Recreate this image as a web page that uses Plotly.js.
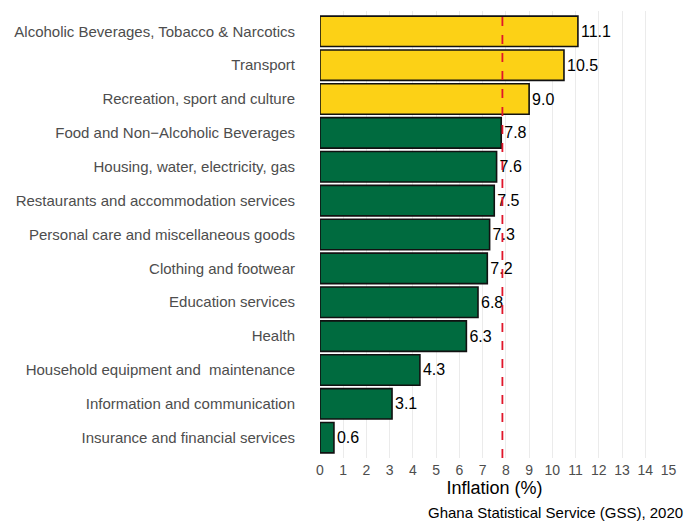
<!DOCTYPE html>
<html><head><meta charset="utf-8">
<script src="https://cdn.plot.ly/plotly-3.0.1.min.js"></script>
<style>body{margin:0;background:#fff}#c{width:689px;height:522px}</style>
</head><body><div id="c"></div>
<script>
var categories = ["Alcoholic Beverages, Tobacco & Narcotics","Transport","Recreation, sport and culture","Food and Non\u2212Alcoholic Beverages","Housing, water, electricity, gas","Restaurants and accommodation services","Personal care and miscellaneous goods","Clothing and footwear","Education services","Health","Household equipment and  maintenance","Information and communication","Insurance and financial services"];
var inflation = [11.1,10.5,9.0,7.8,7.6,7.5,7.3,7.2,6.8,6.3,4.3,3.1,0.6];
var groups = ["high","high","high","low","low","low","low","low","low","low","low","low","low"];
var averageLine = 7.85;
var xTicks = [0,1,2,3,4,5,6,7,8,9,10,11,12,13,14,15];
var colorMap = {high:"#FCD116", low:"#006B3F"};

var trace = {
  type:"bar", orientation:"h",
  y:categories, x:inflation,
  marker:{color:groups.map(function(g){return colorMap[g];}), line:{color:"#111", width:1.6}},
  width:0.9,
  text:inflation.map(function(v){return v.toFixed(1);}),
  textposition:"outside", cliponaxis:false,
  textfont:{family:"Liberation Sans, Arial, sans-serif", size:16, color:"#000"},
  hoverinfo:"x+y"
};
var layout = {
  width:689, height:522,
  margin:{l:320, r:20, t:11, b:64},
  paper_bgcolor:"#fff", plot_bgcolor:"#fff",
  showlegend:false,
  font:{family:"Liberation Sans, Arial, sans-serif"},
  xaxis:{range:[0,15.02], tickvals:xTicks, ticktext:xTicks.map(String),
    showgrid:true, gridcolor:"#EBEBEB", gridwidth:1.1, zeroline:false, showline:false,
    tickfont:{size:14, color:"#4D4D4D"}, ticks:"", ticklabelstandoff:2,
    title:{text:"Inflation (%)", font:{size:18, color:"#000"}, standoff:2}},
  yaxis:{type:"category", range:[12.6,-0.6], showgrid:false, zeroline:false, showline:false,
    tickfont:{size:15, color:"#4D4D4D"}, ticks:"", ticklabelstandoff:24},
  shapes:[{type:"line", xref:"x", yref:"paper", x0:averageLine, x1:averageLine, y0:0, y1:1,
    line:{color:"#E0162B", width:1.8, dash:"dash"}}],
  annotations:[{xref:"paper", yref:"paper", x:1.046, y:-0.121, xanchor:"right", yanchor:"middle",
    text:"Ghana Statistical Service (GSS), 2020", showarrow:false, font:{size:15, color:"#000"}}]
};
Plotly.newPlot("c",[trace],layout,{displayModeBar:false,staticPlot:true});
</script></body></html>
